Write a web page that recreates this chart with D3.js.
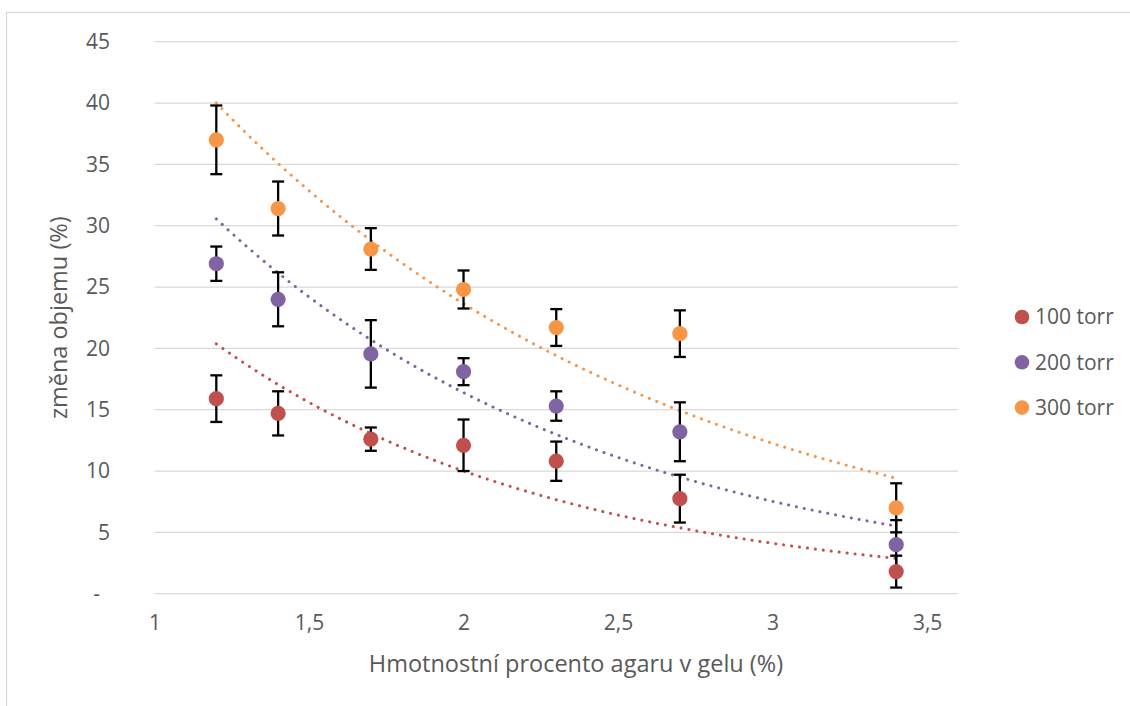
<!DOCTYPE html>
<html>
<head>
<meta charset="utf-8">
<script src="https://cdn.jsdelivr.net/npm/d3@7"></script>
<style>
  body { margin: 0; background: #fff; }
  svg { display: block; font-family: "Open Sans", sans-serif; }
</style>
</head>
<body>
<svg id="chart"></svg>
<script>
var svgWidth = 1130;
var svgHeight = 706;

var plotLeft = 154.5;   // x of value 1
var plotRight = 958;    // end of gridlines
var plotTop = 41.7;     // y of value 45
var plotBottom = 593.7; // y of value 0

var textColor = "#595959";
var gridColor = "#d9d9d9";

// agar concentration (%)
var agar = [1.2, 1.4, 1.7, 2.0, 2.3, 2.7, 3.4];

// volume change (%) and half-width of error bar
var torr100 = [15.9, 14.7, 12.6, 12.1, 10.8, 7.75, 1.8];
var torr100Err = [1.9, 1.8, 0.95, 2.1, 1.6, 1.95, 1.3];
var torr200 = [26.9, 24.0, 19.55, 18.1, 15.3, 13.2, 4.0];
var torr200Err = [1.4, 2.2, 2.75, 1.1, 1.2, 2.4, 2.0];
var torr300 = [37.0, 31.4, 28.1, 24.8, 21.7, 21.2, 7.0];
var torr300Err = [2.8, 2.2, 1.7, 1.55, 1.5, 1.9, 2.0];

var seriesNames = ["100 torr", "200 torr", "300 torr"];
var seriesColors = ["#c0504d", "#8064a2", "#f79646"];

var xTicks = [1, 1.5, 2, 2.5, 3, 3.5];
var yTicks = [0, 5, 10, 15, 20, 25, 30, 35, 40, 45];

var series = [
    {name: seriesNames[0], color: seriesColors[0], values: torr100, errors: torr100Err},
    {name: seriesNames[1], color: seriesColors[1], values: torr200, errors: torr200Err},
    {name: seriesNames[2], color: seriesColors[2], values: torr300, errors: torr300Err}
];

var xScale = d3.scaleLinear().domain([1, 3.6]).range([plotLeft, plotRight]);
var yScale = d3.scaleLinear().domain([0, 45]).range([plotBottom, plotTop]);

var svg = d3.select("#chart")
    .attr("width", svgWidth)
    .attr("height", svgHeight);

// chart area border (only left and top are inside the picture)
svg.append("rect")
    .attr("x", 6.5)
    .attr("y", 12.5)
    .attr("width", svgWidth + 20)
    .attr("height", svgHeight + 20)
    .attr("fill", "none")
    .attr("stroke", gridColor)
    .attr("stroke-width", 1.3);


// Excel style exponential trendline: least squares on ln(y)
function expFit(xs, ys) {
    let n = xs.length;
    let lys = ys.map(v => Math.log(v));
    let mx = d3.mean(xs);
    let my = d3.mean(lys);
    let sxx = 0, sxy = 0;
    for (let i = 0; i < n; i++) {
        sxx += (xs[i] - mx) * (xs[i] - mx);
        sxy += (xs[i] - mx) * (lys[i] - my);
    }
    let b = sxy / sxx;
    let a = Math.exp(my - b * mx);
    return x => a * Math.exp(b * x);
};


// gridlines
svg.append("g")
    .selectAll("line")
    .data(yTicks)
    .join("line")
    .attr("x1", plotLeft)
    .attr("x2", plotRight)
    .attr("y1", d => yScale(d))
    .attr("y2", d => yScale(d))
    .attr("stroke", gridColor)
    .attr("stroke-width", 1.3);

// y axis labels
var yAxis = svg.append("g")
    .attr("transform", "translate(" + 110 + ",0)")
    .call(d3.axisLeft(yScale).tickValues(yTicks).tickSize(0).tickPadding(0)
        .tickFormat(d => d === 0 ? "-" : d));
yAxis.select(".domain").remove();
yAxis.selectAll("text")
    .attr("fill", textColor)
    .style("font-size", "21px")
    .style("font-family", "Open Sans, sans-serif")
    .attr("dx", d => d === 0 ? -10 : 0);

// x axis labels
var xAxis = svg.append("g")
    .attr("transform", "translate(0," + 615 + ")")
    .call(d3.axisBottom(xScale).tickValues(xTicks).tickSize(0).tickPadding(0)
        .tickFormat(d => String(d).replace(".", ",")));
xAxis.select(".domain").remove();
xAxis.selectAll("text")
    .attr("fill", textColor)
    .style("font-size", "21px")
    .style("font-family", "Open Sans, sans-serif");

// axis titles
svg.append("text")
    .attr("x", 576)
    .attr("y", 672)
    .attr("text-anchor", "middle")
    .attr("fill", textColor)
    .style("font-size", "23.5px")
    .text("Hmotnostní procento agaru v gelu (%)");

svg.append("text")
    .attr("transform", "translate(67," + ((plotTop + plotBottom) / 2) + ") rotate(-90)")
    .attr("text-anchor", "middle")
    .attr("fill", textColor)
    .style("font-size", "23.5px")
    .text("změna objemu (%)");

// trendlines
var trendLine = d3.line()
    .x(d => xScale(d[0]))
    .y(d => yScale(d[1]));

series.forEach(function(s) {
    let f = expFit(agar, s.values);
    let x0 = agar[0], x1 = agar[agar.length - 1];
    let pts = d3.range(0, 101).map(i => x0 + (x1 - x0) * i / 100).map(x => [x, f(x)]);
    svg.append("path")
        .datum(pts)
        .attr("d", trendLine)
        .attr("fill", "none")
        .attr("stroke", s.color)
        .attr("stroke-width", 3)
        .attr("stroke-linecap", "round")
        .attr("stroke-dasharray", "0.1 7.9");
});

// error bars
var capHalf = 6;
series.forEach(function(s) {
    let g = svg.append("g")
        .attr("stroke", "#000")
        .attr("stroke-width", 2.3);
    agar.forEach(function(x, i) {
        let cx = xScale(x);
        let top = yScale(s.values[i] + s.errors[i]);
        let bot = yScale(s.values[i] - s.errors[i]);
        g.append("line").attr("x1", cx).attr("x2", cx).attr("y1", top).attr("y2", bot);
        g.append("line").attr("x1", cx - capHalf).attr("x2", cx + capHalf).attr("y1", top).attr("y2", top);
        g.append("line").attr("x1", cx - capHalf).attr("x2", cx + capHalf).attr("y1", bot).attr("y2", bot);
    });
});

// markers
series.forEach(function(s) {
    svg.append("g")
        .selectAll("circle")
        .data(agar)
        .join("circle")
        .attr("cx", d => xScale(d))
        .attr("cy", (d, i) => yScale(s.values[i]))
        .attr("r", 7.6)
        .attr("fill", s.color);
});

// legend
var legend = svg.append("g")
    .selectAll("g")
    .data(series)
    .join("g")
    .attr("transform", (d, i) => "translate(1022," + (317 + i * 45.3) + ")");

legend.append("circle")
    .attr("r", 7.3)
    .attr("fill", d => d.color);

legend.append("text")
    .attr("x", 13)
    .attr("dy", "0.35em")
    .attr("fill", textColor)
    .style("font-size", "21px")
    .text(d => d.name);
</script>
</body>
</html>
